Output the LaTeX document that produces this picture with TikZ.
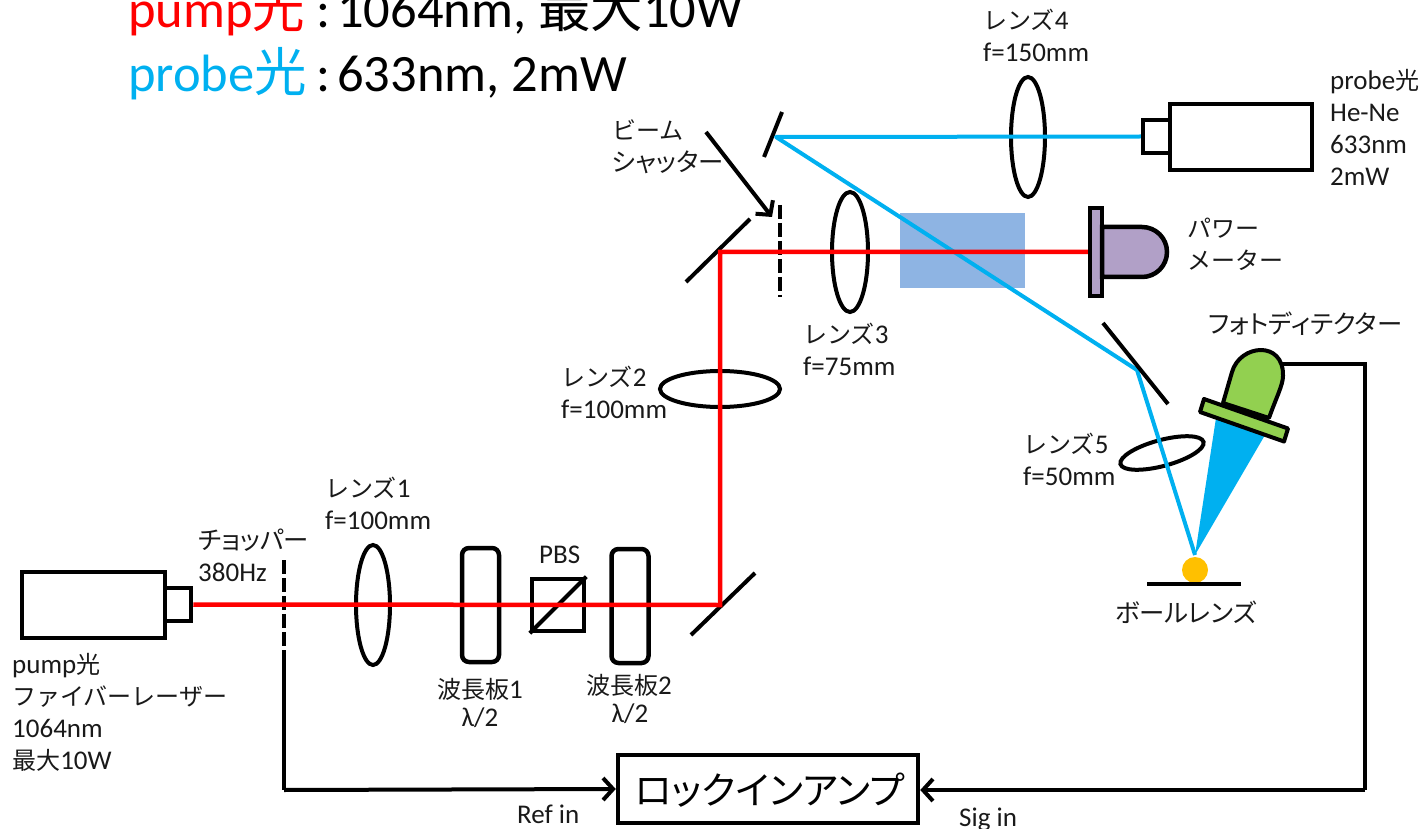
\documentclass[tikz,border=0pt]{standalone}
\usepackage{fontspec}
\setmainfont{Carlito}
\newfontfamily\jpf[Scale=0.89]{Noto Sans CJK JP}
\newfontfamily\jpp[Scale=0.94,RawFeature=+palt]{Noto Sans CJK JP}
\newfontfamily\jpb{Noto Sans CJK JP}
\newfontfamily\jpq[RawFeature=+palt]{Noto Sans CJK JP}
\newcommand{\J}[1]{{\jpf #1}}
\newcommand{\Jp}[1]{{\jpp #1}}
\newcommand{\Jb}[1]{{\jpb #1}}
\usetikzlibrary{arrows.meta,shapes.geometric,calc}
\definecolor{pumpred}{HTML}{FF0000}
\definecolor{probeblue}{HTML}{00B0F0}
\definecolor{sample}{HTML}{8EB4E3}
\definecolor{meter}{HTML}{B1A0C7}
\definecolor{detector}{HTML}{92D050}
\definecolor{ball}{HTML}{FFC000}
\tikzset{
  lab/.style={font=\fontsize{27}{32}\selectfont,align=left,anchor=north west,inner sep=0pt,text=black!90},
  big/.style={font=\fontsize{52.5}{60}\selectfont,anchor=base west,inner sep=0pt},
  boxn/.style={draw=black,line width=4.5pt,inner sep=0pt,fill=white},
  plate/.style={draw=black,line width=4.5pt,rounded corners=7pt,inner sep=0pt,minimum width=37pt,minimum height=114pt},
  lens/.style={draw=black,line width=4pt,ellipse,inner sep=0pt},
  mirror/.style={line width=4pt,draw=black},
  pump/.style={line width=4.5pt,draw=pumpred},
  probe/.style={line width=4pt,draw=probeblue,line join=round},
  chop/.style={line width=4pt,draw=black,dash pattern=on 14pt off 4pt},
  wire/.style={line width=4pt,draw=black,-{Straight Barb[length=10pt,width=22pt,line width=4pt]}},
}
\begin{document}
\begin{tikzpicture}[x=1pt,y=-1pt]
\useasboundingbox (0,0) rectangle (1425,829);
\clip (0,0) rectangle (1425,829);
% sample block
\node[fill=sample,inner sep=0pt,minimum width=125pt,minimum height=75pt] (sampleblock) at (962.5,250.5) {};
% lasers
\node[boxn,minimum width=143pt,minimum height=66pt] (pumpbody) at (93.5,605) {};
\node[boxn,minimum width=26pt,minimum height=33pt] (pumphead) at (178,604.5) {};
\node[boxn,minimum width=142pt,minimum height=66pt] (probebody) at (1241,137) {};
\node[boxn,minimum width=27pt,minimum height=33pt] (probehead) at (1156.5,136.5) {};
% optics
\node[lens,minimum width=34pt,minimum height=120pt] (lens1) at (373,605) {};
\node[lens,minimum width=120pt,minimum height=36pt] (lens2) at (720,389) {};
\node[lens,minimum width=36pt,minimum height=120pt] (lens3) at (850,252) {};
\node[lens,minimum width=34pt,minimum height=120pt] (lens4) at (1028,137) {};
\node[lens,minimum width=86pt,minimum height=26pt,rotate=15] (lens5) at (1162,453) {};
\node[plate] (wp1) at (480.5,605) {};
\node[plate] (wp2) at (630,606) {};
\node[draw=black,line width=4.5pt,inner sep=0pt,minimum width=52pt,minimum height=52pt] (pbs) at (558,605) {};
\draw[line width=4pt] (pbs.south west) -- (pbs.north east);
% mirrors
\coordinate (m1a) at (691,635); \coordinate (m1b) at (755,573);
\coordinate (m2a) at (686,282); \coordinate (m2b) at (750,219);
\coordinate (m3a) at (764,157); \coordinate (m3b) at (782,112);
\coordinate (m4a) at (1103,323); \coordinate (m4b) at (1168,404);
\draw[mirror] (m1a) -- (m1b);
\draw[mirror] (m2a) -- (m2b);
\draw[mirror] (m3a) -- (m3b);
% choppers
\coordinate (chopT) at (284,560); \coordinate (chopB) at (284,650);
\coordinate (shutT) at (780,205); \coordinate (shutB) at (780,297);
\draw[chop] (chopT) -- (chopB);
\draw[chop] (shutT) -- (shutB);
% power meter
\node[draw=black,fill=meter,line width=4.5pt,inner sep=0pt,minimum width=12pt,minimum height=88pt] (pmplate) at (1096,252) {};
\draw[line width=4.5pt,fill=meter] (1102,227) -- (1142,227) arc[start angle=90,end angle=-90,radius=25pt] -- (1102,277) -- cycle;
% cone and beams
\coordinate (ballTop) at (1195,555);
\fill[probeblue] (ballTop) -- (1216,418) -- (1265,435) -- cycle;
% photodetector
\draw[line width=4pt,fill=detector,line join=round] (1223,403) -- (1232,372) .. controls (1240,344) and (1284,340) .. (1283,376) .. controls (1283,385) and (1276,398) .. (1269,418) -- cycle;
\draw[line width=4pt,fill=detector,line join=round] (1200,412) -- (1204,399) -- (1288,428.5) -- (1284,441.5) -- cycle;
\coordinate (pdTap) at (1282,364);
% ball lens
\node[circle,fill=ball,inner sep=0pt,minimum size=26pt] (balllens) at (1195,570) {};
\coordinate (baseL) at (1147,584); \coordinate (baseR) at (1241,584);
\draw[line width=4pt] (baseL) -- (baseR);
% beams
\coordinate (m1c) at (720,605); \coordinate (m2c) at (720,252);
\coordinate (m3c) at (776,137); \coordinate (m4c) at (1137,370);
\draw[probe] (probehead.west) -- (m3c) -- (m4c) -- (ballTop);
\draw[mirror] (m4a) -- (m4b);
\draw[pump,line join=miter] (pumphead.east) -- (m1c) -- (m2c) -- (pmplate.west);
% lock-in
\node[draw=black,line width=4.5pt,inner sep=0pt,minimum width=300pt,minimum height=68pt,text depth=0pt,font=\fontsize{38}{38}\selectfont\jpq] (lockin) at (768,789) {\hspace*{3pt}ロックインアンプ};
\coordinate (chopWire) at (284,790); \coordinate (sigCorner1) at (1365,364); \coordinate (sigCorner2) at (1365,790);
\draw[line width=4pt] (chopB) -- (chopWire);
\draw[wire] (chopWire) -- (lockin.west);
\draw[line width=4pt,line join=miter] (pdTap) -- (sigCorner1) -- (sigCorner2);
\draw[wire] (sigCorner2) -- (lockin.east |- sigCorner2);
% shutter arrow
\coordinate (shutArrowStart) at (706,132); \coordinate (shutArrowEnd) at (772,217);
\draw[wire] (shutArrowStart) -- (shutArrowEnd);
% labels
\node[big,text=pumpred] (tpump) at (128,28) {pump\Jb{光}};
\node[big] (tpumpc) at (316,28) {:};
\node[big] (tpumpv) at (337,28) {1064nm, \Jb{最大}10W};
\node[big,text=probeblue] (tprobe) at (128,92) {probe\Jb{光}};
\node[big] (tprobec) at (316,92) {:};
\node[big] (tprobev) at (337,92) {633nm, 2mW};
\node[lab] (lpump) at (12,653) {pump\J{光}\\\J{ファイバーレーザー}\\1064nm\\\J{最大}10W};
\node[lab] (lchop) at (198,529) {\Jp{チョッパー}\\380Hz};
\node[lab] (llens1) at (325,477) {\J{レンズ}1\\f=100mm};
\node[lab,anchor=north] (lwp1) at (480,678) {\J{波長板}1};
\node[lab,anchor=north] (llam1) at (480,708) {λ/2};
\node[lab,anchor=north] (lwp2) at (629,674) {\J{波長板}2};
\node[lab,anchor=north] (llam2) at (630,704) {λ/2};
\node[lab] (lpbs) at (539,546) {PBS};
\node[lab] (llens2) at (561,366) {\J{レンズ}2\\f=100mm};
\node[lab] (lshut) at (612,120) {\J{ビーム}\\\Jp{シャッター}};
\node[lab] (llens3) at (803,323) {\J{レンズ}3\\f=75mm};
\node[lab] (llens4) at (983,9) {\J{レンズ}4\\f=150mm};
\node[lab] (lprobe) at (1330,69) {probe\J{光}\\He-Ne\\633nm\\2mW};
\node[lab] (lpm) at (1187,218) {\J{パワー}\\\J{メーター}};
\node[lab] (lpd) at (1208,312) {\Jp{フォトディテクター}};
\node[lab] (llens5) at (1023,433) {\J{レンズ}5\\f=50mm};
\node[lab] (lball) at (1115,601) {\Jp{ボールレンズ}};
\node[lab] (lref) at (517,805) {Ref in};
\node[lab] (lsig) at (959,808) {Sig in};
\end{tikzpicture}
\end{document}
